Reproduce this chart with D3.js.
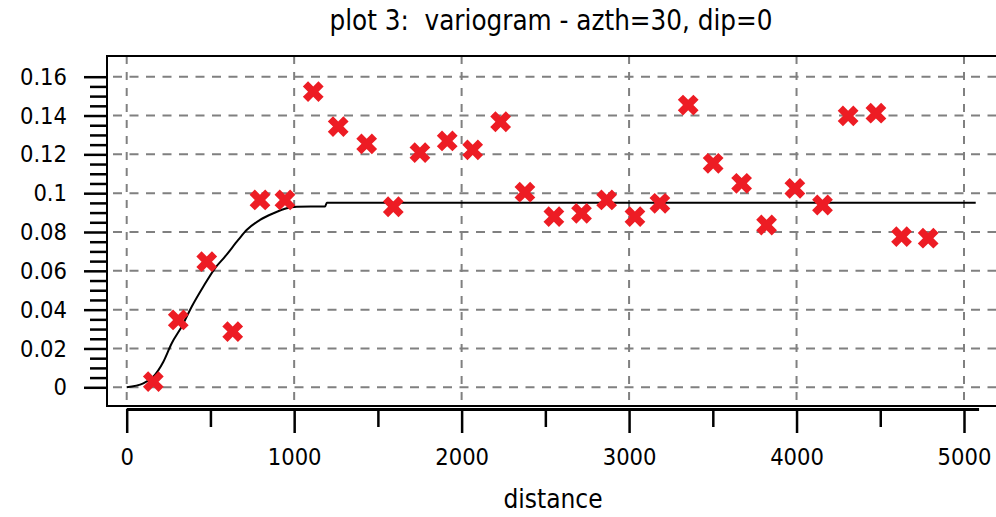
<!DOCTYPE html>
<html>
<head>
<meta charset="utf-8">
<script src="https://cdn.jsdelivr.net/npm/d3@7"></script>
<style>
  body { margin: 0; background: #fff; }
  .chart text { font-family: "DejaVu Sans Condensed", "DejaVu Sans", sans-serif; fill: #000; }
</style>
</head>
<body>
<div class="chart"></div>
<script>
// experimental variogram points (lag distance, gamma)
const lagDistance = [159, 308, 478, 633, 796, 945, 1114, 1263, 1433, 1592, 1751, 1914, 2066, 2233, 2378,
  2551, 2716, 2866, 3035, 3184, 3353, 3502, 3672, 3821, 3990, 4155, 4308, 4474, 4627, 4786];
const gammaValues = [0.0029, 0.0347, 0.0647, 0.0287, 0.0965, 0.0965, 0.1523, 0.1343, 0.1254, 0.093, 0.1209,
  0.1269, 0.1223, 0.1368, 0.1005, 0.0879, 0.0896, 0.0965, 0.0879, 0.0948, 0.1454, 0.1154, 0.1051, 0.0836,
  0.1025, 0.0939, 0.1398, 0.1412, 0.0776, 0.0768];

// fitted model curve
const modelDistance = [0, 99, 159, 219, 269, 328, 388, 457, 527, 587, 666, 716, 796, 875, 955, 1015, 1100, 1185, 1195, 5070];
const modelGamma = [0, 0.002, 0.0055, 0.0132, 0.0227, 0.0312, 0.0415, 0.0518, 0.0613, 0.0673, 0.0759, 0.081,
  0.0862, 0.0896, 0.0922, 0.093, 0.0932, 0.0932, 0.0951, 0.0951];

const xTicks = [0, 1000, 2000, 3000, 4000, 5000];
const xTickLabels = ["0", "1000", "2000", "3000", "4000", "5000"];
const xMinorTicks = [500, 1500, 2500, 3500, 4500];
const yTicks = [0, 0.02, 0.04, 0.06, 0.08, 0.1, 0.12, 0.14, 0.16];
const yTickLabels = ["0", "0.02", "0.04", "0.06", "0.08", "0.1", "0.12", "0.14", "0.16"];
const yMinorTicks = [0.005, 0.01, 0.015, 0.025, 0.03, 0.035, 0.045, 0.05, 0.055, 0.065, 0.07, 0.075,
  0.085, 0.09, 0.095, 0.105, 0.11, 0.115, 0.125, 0.13, 0.135, 0.145, 0.15, 0.155];

document.addEventListener("DOMContentLoaded", function () {
  const width = 996,
    height = 517;
  const frame = { left: 107, top: 56, right: 1010, bottom: 406 };

  const svg = d3
    .select(".chart")
    .append("svg")
    .attr("width", width)
    .attr("height", height);

  // scales
  const xScale = d3.scaleLinear().domain([0, 5000]).range([126.7, 964]);
  const yScale = d3.scaleLinear().domain([0, 0.16]).range([387.3, 76.7]);

  // title
  svg
    .append("text")
    .attr("x", 551)
    .attr("y", 30)
    .attr("text-anchor", "middle")
    .style("font-size", "27.5px")
    .style("white-space", "pre")
    .text("plot 3:  variogram - azth=30, dip=0");

  // grid
  svg
    .append("g")
    .selectAll("line")
    .data(xTicks)
    .enter()
    .append("line")
    .attr("x1", (d) => xScale(d))
    .attr("x2", (d) => xScale(d))
    .attr("y1", frame.top)
    .attr("y2", frame.bottom)
    .attr("stroke", "#808080")
    .attr("stroke-width", 2)
    .attr("stroke-dasharray", "8,8");

  svg
    .append("g")
    .selectAll("line")
    .data(yTicks)
    .enter()
    .append("line")
    .attr("x1", frame.left)
    .attr("x2", frame.right)
    .attr("y1", (d) => yScale(d))
    .attr("y2", (d) => yScale(d))
    .attr("stroke", "#808080")
    .attr("stroke-width", 2)
    .attr("stroke-dasharray", "9,7.5")
    .attr("stroke-dashoffset", -6);

  // frame
  svg
    .append("rect")
    .attr("x", frame.left)
    .attr("y", frame.top)
    .attr("width", frame.right - frame.left)
    .attr("height", frame.bottom - frame.top)
    .attr("fill", "none")
    .attr("stroke", "#000")
    .attr("stroke-width", 2);

  // y axis
  const yAxis = d3
    .axisLeft(yScale)
    .tickValues(yTicks)
    .tickSize(23)
    .tickPadding(17)
    .tickFormat((d, i) => yTickLabels[i]);
  const yG = svg.append("g").attr("transform", "translate(" + frame.left + ",0)").call(yAxis);
  const yMinorG = svg
    .append("g")
    .attr("transform", "translate(" + frame.left + ",0)")
    .call(d3.axisLeft(yScale).tickValues(yMinorTicks).tickSize(17).tickFormat(""));

  // x axis
  const xAxis = d3
    .axisBottom(xScale)
    .tickValues(xTicks)
    .tickSize(24)
    .tickPadding(15)
    .tickFormat((d, i) => xTickLabels[i]);
  const xG = svg.append("g").attr("transform", "translate(0,409)").call(xAxis);
  const xMinorG = svg
    .append("g")
    .attr("transform", "translate(0,409)")
    .call(d3.axisBottom(xScale).tickValues(xMinorTicks).tickSize(18).tickFormat(""));

  [yG, yMinorG, xG, xMinorG].forEach((g) => {
    g.select(".domain").remove();
    g.selectAll(".tick line").attr("stroke", "#000").attr("stroke-width", 2.5);
    g.selectAll(".tick text").style("font-size", "23.5px");
  });

  svg
    .append("line")
    .attr("x1", xScale(0))
    .attr("x2", xScale(5090))
    .attr("y1", 409.5)
    .attr("y2", 409.5)
    .attr("stroke", "#000")
    .attr("stroke-width", 3);

  svg
    .append("text")
    .attr("x", 553)
    .attr("y", 508)
    .attr("text-anchor", "middle")
    .style("font-size", "26px")
    .text("distance");

  // model curve
  const line = d3
    .line()
    .x((d, i) => xScale(modelDistance[i]))
    .y((d, i) => yScale(modelGamma[i]))
    .curve(d3.curveMonotoneX);

  svg
    .append("path")
    .datum(modelGamma)
    .attr("d", line)
    .attr("fill", "none")
    .attr("stroke", "#000")
    .attr("stroke-width", 2);

  // points
  const marker = d3.symbol().type(d3.symbolCross).size(270);
  svg
    .append("g")
    .selectAll("path")
    .data(gammaValues)
    .enter()
    .append("path")
    .attr("d", marker)
    .attr("transform", (d, i) => "translate(" + xScale(lagDistance[i]) + "," + yScale(d) + ") rotate(45)")
    .attr("fill", "#ed1c24");
});
</script>
</body>
</html>
